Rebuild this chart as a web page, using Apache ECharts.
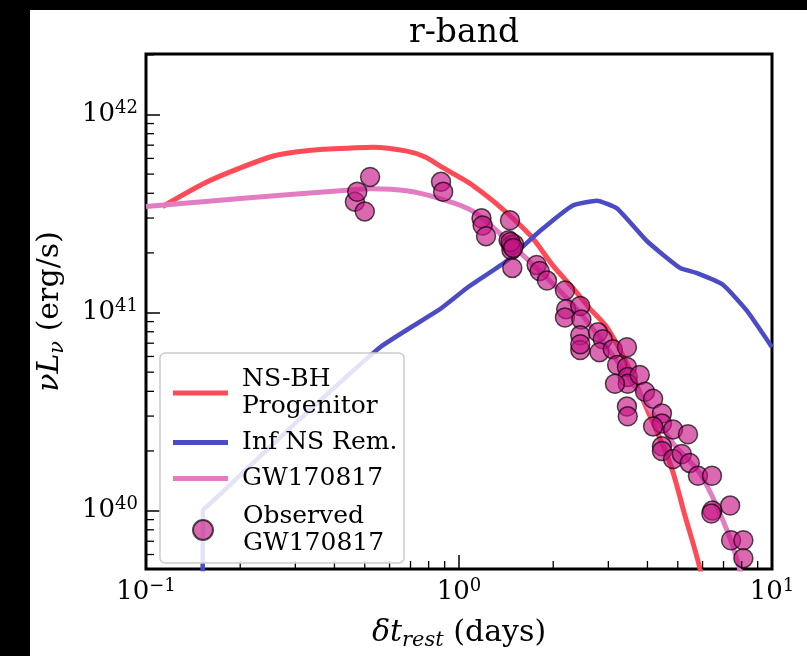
<!DOCTYPE html>
<html>
<head>
<meta charset="utf-8">
<script src="https://cdn.jsdelivr.net/npm/echarts@6/dist/echarts.min.js"></script>
<style>html,body{margin:0;padding:0;background:#fff;}#c{width:807px;height:656px;}</style>
</head>
<body>
<div id="c"></div>
<script>
// ---- data (time in days, nuLnu in erg/s) ----
const redT = [0.113, 0.157, 0.2, 0.255, 0.3, 0.367, 0.44, 0.531, 0.682, 0.78, 0.869, 1.0, 1.11, 1.35, 1.69, 2.0, 2.31, 2.6, 2.97, 3.44, 3.99, 4.72, 5.27, 5.89, 6.3];
const redL = [3.43e41, 4.57e41, 5.37e41, 6.17e41, 6.46e41, 6.68e41, 6.76e41, 6.84e41, 6.53e41, 6.10e41, 5.50e41, 4.84e41, 4.37e41, 3.43e41, 2.45e41, 1.72e41, 1.33e41, 1.06e41, 8.41e40, 5.50e40, 3.24e40, 1.74e40, 9.44e39, 5.07e39, 2.8e39];

const blueT = [0.1515, 0.152, 0.16, 0.288, 0.56, 0.869, 1.06, 1.42, 1.81, 2.31, 2.76, 3.20, 3.99, 5.08, 5.76, 6.97, 8.32, 10.0];
const blueL = [1.0e39, 1.0e40, 1.08e40, 2.60e40, 6.68e40, 1.04e41, 1.33e41, 1.82e41, 2.57e41, 3.47e41, 3.67e41, 3.35e41, 2.29e41, 1.68e41, 1.58e41, 1.38e41, 1.02e41, 6.68e40];

const pinkT = [0.1, 0.2, 0.417, 0.53, 0.68, 0.87, 1.11, 1.60, 2.31, 2.97, 3.78, 4.83, 5.9, 7.08, 7.9, 8.5];
const pinkL = [3.43e41, 3.76e41, 4.12e41, 4.22e41, 4.12e41, 3.76e41, 3.24e41, 1.95e41, 1.10e41, 6.68e40, 3.89e40, 2.19e40, 1.53e40, 8.41e39, 5.01e39, 2.82e39];

const obsT = [0.465, 0.473, 0.52, 0.50, 0.876, 0.89, 1.18, 1.19, 1.22, 1.455, 1.44, 1.47, 1.50, 1.47, 1.48, 1.46, 1.49,
  1.77, 1.81, 1.91, 2.18, 2.2, 2.18, 2.44, 2.46, 2.44, 2.44, 2.44, 2.78, 2.88, 2.81, 3.10, 3.44, 3.2, 3.44, 3.46, 3.46, 3.15,
  3.78, 3.44, 3.46, 3.93, 4.17, 4.45, 4.45, 4.17, 4.83, 5.39, 4.45, 4.45, 4.83, 5.15, 5.46, 5.80, 6.43, 6.45, 6.4, 7.35, 7.4, 8.1, 8.1];
const obsL = [3.63e41, 4.07e41, 4.84e41, 3.24e41, 4.57e41, 4.07e41, 2.99e41, 2.75e41, 2.43e41, 2.92e41, 2.32e41, 2.19e41, 2.21e41, 2.07e41, 1.68e41, 2.27e41, 2.12e41,
  1.74e41, 1.62e41, 1.45e41, 1.29e41, 1.04e41, 9.44e40, 1.08e41, 9.23e40, 7.67e40, 6.46e40, 6.92e40, 7.94e40, 7.33e40, 6.31e40, 6.53e40, 6.68e40, 5.43e40, 5.31e40, 4.73e40, 4.37e40, 4.37e40,
  4.84e40, 3.35e40, 2.99e40, 3.98e40, 3.67e40, 3.09e40, 2.75e40, 2.66e40, 2.57e40, 2.43e40, 2.11e40, 2.00e40, 1.82e40, 1.93e40, 1.74e40, 1.50e40, 1.50e40, 1.00e40, 9.66e39, 1.06e40, 7.08e39, 7.08e39, 5.75e39];

const xMin = 0.1, xMax = 10;
const yMin = 5.07e39, yMax = 2.02e42;
const minorMult = [2, 3, 4, 5, 6, 7, 8, 9];
const xDecades = [0.1, 1];
const yDecades = [1e39, 1e40, 1e41, 1e42];

const names = { red: 'NS-BH\nProgenitor', blue: 'Inf NS Rem.', pink: 'GW170817', obs: 'Observed\nGW170817' };
const FONT = 'DejaVu Serif';
const cRed = '#ff4b57', cBlue = '#4b4bc6', cPink = '#e27dc2';

const zip = (a, b) => a.map((v, i) => [v, b[i]]);
const xMinor = [], yMinor = [];
xDecades.forEach(d => minorMult.forEach(m => { const v = d * m; if (v > xMin && v < xMax) xMinor.push([v, yMin]); }));
yDecades.forEach(d => minorMult.forEach(m => { const v = d * m; if (v > yMin && v < yMax) yMinor.push([xMin, v]); }));

const supFmt = v => {
  const e = Math.log10(v);
  if (Math.abs(e - Math.round(e)) > 1e-6) return '';
  const n = Math.round(e);
  return '{b|10}{s|' + (n < 0 ? '\u2212' + (-n) : n) + '}';
};
const tickRich = {
  b: { fontFamily: FONT, fontSize: 26, color: '#000', lineHeight: 30 },
  s: { fontFamily: FONT, fontSize: 18, color: '#000', lineHeight: 14, verticalAlign: 'top' }
};
const labelRich = {
  i: { fontFamily: FONT, fontStyle: 'italic', fontSize: 30, color: '#000', lineHeight: 36 },
  sub: { fontFamily: FONT, fontStyle: 'italic', fontSize: 21, color: '#000', lineHeight: 14, verticalAlign: 'bottom' },
  n: { fontFamily: FONT, fontSize: 30, color: '#000', lineHeight: 36 }
};

const chart = echarts.init(document.getElementById('c'), null, { renderer: 'canvas' });
chart.setOption({
  animation: false,
  backgroundColor: '#fff',
  title: {
    text: 'r-band', left: 459, top: 12, textAlign: 'center',
    textStyle: { fontFamily: FONT, fontSize: 33, fontWeight: 'normal', color: '#000' }
  },
  grid: { left: 146, right: 35, top: 54, bottom: 81, show: true, borderColor: '#000', borderWidth: 3, backgroundColor: 'transparent' },
  xAxis: {
    type: 'log', logBase: 10, min: xMin, max: xMax,
    axisLine: { show: false },
    axisTick: { show: true, inside: true, length: 14, lineStyle: { color: '#000', width: 1.5 } },
    splitLine: { show: false },
    axisLabel: { formatter: supFmt, rich: tickRich, margin: 8 },
    name: '{i|\u03b4t}{sub|rest}{n| (days)}', nameLocation: 'middle', nameGap: 46,
    nameTextStyle: { rich: labelRich }
  },
  yAxis: {
    type: 'log', logBase: 10, min: yMin, max: yMax,
    axisLine: { show: false },
    axisTick: { show: true, inside: true, length: 14, lineStyle: { color: '#000', width: 1.5 } },
    splitLine: { show: false },
    axisLabel: { formatter: supFmt, rich: tickRich, margin: 8, showMinLabel: false, showMaxLabel: false },
    name: '{i|\u03bdL}{sub|\u03bd}{n| (erg/s)}', nameLocation: 'middle', nameGap: 78, nameRotate: 90,
    nameTextStyle: { rich: labelRich }
  },
  legend: [
    {
      data: [{ name: names.red, icon: 'rect' }, { name: names.blue, icon: 'rect' }, { name: names.pink, icon: 'rect' }],
      orient: 'vertical', left: 168, top: 361, itemWidth: 55, itemHeight: 5, itemGap: 9, z: 10,
      selectedMode: false,
      formatter: n => n.split('\n').map(s => '{sp| }{t|' + s + '}').join('\n'),
      textStyle: {
        fontFamily: FONT, fontSize: 25, color: '#000', lineHeight: 27,
        rich: { sp: { width: 9 }, t: { fontFamily: FONT, fontSize: 25, color: '#000', lineHeight: 27 } }
      }
    },
    {
      data: [{ name: names.obs, icon: 'circle' }],
      orient: 'vertical', left: 187, top: 498, itemWidth: 20, itemHeight: 20, z: 10,
      selectedMode: false,
      formatter: n => n.split('\n').map(s => '{sp| }{t|' + s + '}').join('\n'),
      textStyle: {
        fontFamily: FONT, fontSize: 25, color: '#000', lineHeight: 27,
        rich: { sp: { width: 25 }, t: { fontFamily: FONT, fontSize: 25, color: '#000', lineHeight: 27 } }
      }
    }
  ],
  graphic: [
    { type: 'rect', z: 100, shape: { x: 0, y: 0, width: 807, height: 10 }, style: { fill: '#000' } },
    { type: 'rect', z: 100, shape: { x: 0, y: 0, width: 30, height: 656 }, style: { fill: '#000' } },
    { type: 'rect', z: 5, shape: { x: 160, y: 353, width: 244, height: 210, r: 5 }, style: { fill: 'rgba(255,255,255,0.85)', stroke: '#cccccc', lineWidth: 1.5 } }
  ],
  series: [
    {
      name: names.red, type: 'line', data: zip(redT, redL), showSymbol: false, smooth: 0.3,
      lineStyle: { color: cRed, width: 5 }, itemStyle: { color: cRed }, z: 2
    },
    {
      name: names.blue, type: 'line', data: zip(blueT, blueL), showSymbol: false, smooth: 0.15,
      lineStyle: { color: cBlue, width: 4.5 }, itemStyle: { color: cBlue }, z: 2
    },
    {
      name: names.pink, type: 'line', data: zip(pinkT, pinkL), showSymbol: false, smooth: 0.3,
      lineStyle: { color: cPink, width: 5 }, itemStyle: { color: cPink }, z: 2
    },
    {
      name: names.obs, type: 'scatter', data: zip(obsT, obsL), symbolSize: 19,
      itemStyle: { color: 'rgba(199,21,133,0.8)', borderColor: 'rgba(0,0,0,0.85)', borderWidth: 1.5 }, z: 3
    },
    {
      type: 'custom', data: xMinor, silent: true, clip: false, z: 4,
      renderItem: (p, api) => {
        const c = api.coord([api.value(0), api.value(1)]);
        return { type: 'line', shape: { x1: c[0], y1: c[1], x2: c[0], y2: c[1] - 8 }, style: { stroke: '#000', lineWidth: 1.3 } };
      }
    },
    {
      type: 'custom', data: yMinor, silent: true, clip: false, z: 4,
      renderItem: (p, api) => {
        const c = api.coord([api.value(0), api.value(1)]);
        return { type: 'line', shape: { x1: c[0], y1: c[1], x2: c[0] + 8, y2: c[1] }, style: { stroke: '#000', lineWidth: 1.3 } };
      }
    }
  ]
});
</script>
</body>
</html>
